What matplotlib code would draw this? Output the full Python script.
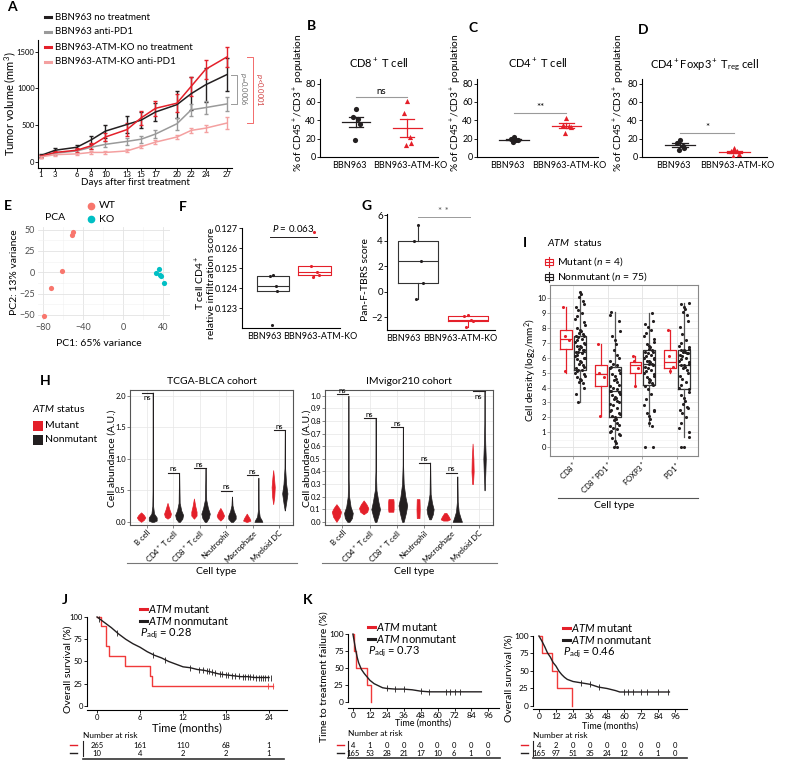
import numpy as np
import matplotlib
matplotlib.use('Agg')
import matplotlib.pyplot as plt
from matplotlib.lines import Line2D
from matplotlib.patches import Rectangle

plt.rcParams['font.family'] = ['Lato', 'DejaVu Sans']
plt.rcParams['mathtext.fontset'] = 'custom'
plt.rcParams['mathtext.rm'] = 'Lato'
plt.rcParams['mathtext.it'] = 'Lato:italic'
plt.rcParams['mathtext.default'] = 'regular'
plt.rcParams['axes.linewidth'] = 0.8

RED = '#E4202A'
BLACK = '#231F20'
GRAY = '#9A9A9A'
PINK = '#F4A0A0'
TEAL = '#00BFC4'
SALMON = '#F8766D'

# ---- A: tumour growth ----
days = [1, 3, 6, 8, 10, 13, 15, 17, 20, 22, 24, 27]
vol_ctrl = [90, 160, 200, 300, 420, 510, 570, 680, 780, 930, 1050, 1190]
vol_ctrl_err = [20, 30, 30, 60, 90, 110, 110, 120, 180, 220, 230, 230]
vol_pd1 = [80, 120, 150, 200, 240, 280, 310, 380, 520, 710, 740, 790]
vol_pd1_err = [15, 20, 25, 30, 40, 50, 50, 60, 80, 80, 90, 100]
vol_ko = [80, 130, 160, 220, 340, 440, 600, 730, 800, 1030, 1260, 1430]
vol_ko_err = [20, 25, 30, 40, 60, 90, 100, 100, 120, 130, 130, 140]
vol_ko_pd1 = [70, 100, 110, 130, 130, 150, 210, 270, 340, 430, 460, 530]
vol_ko_pd1_err = [10, 15, 15, 20, 20, 20, 20, 25, 30, 30, 50, 80]

# ---- B-D: flow cytometry ----
cd8_wt = [52, 44, 41, 36, 19]
cd8_ko = [61, 48, 22, 15, 13]
cd4_wt = [22, 20, 19, 18, 16]
cd4_ko = [43, 35, 34, 33, 26]
treg_wt = [19, 15, 12, 10, 8]
treg_ko = [10, 7, 6, 3, 1]

# ---- E: PCA ----
pc1_wt = [-51, -50, -61, -72, -79]
pc2_wt = [44, 47, 1, -18, -51]
pc1_ko = [33, 36, 37, 38, 41]
pc2_ko = [-1, 4, -3, -5, -13]

# ---- F, G ----
cd4_score_wt = [0.12465, 0.12462, 0.12408, 0.12385, 0.12215]
cd4_score_ko = [0.1268, 0.12510, 0.12478, 0.12465, 0.12455]
tbrs_wt = [5.2, 4.0, 2.4, 0.7, -0.6]
tbrs_ko = [-1.85, -1.9, -2.2, -2.3, -2.75]

# ---- H: violins (y, half width) ----
cell_types = ['B cell', 'CD4$^+$ T cell', 'CD8$^+$ T cell', 'Neutrophil', 'Macrophage', 'Myeloid DC']
tcga_mut = [
    [(0, 0), (0.03, 0.1), (0.07, 0.16), (0.11, 0.1), (0.15, 0)],
    [(0.05, 0), (0.08, 0.1), (0.13, 0.13), (0.2, 0.07), (0.3, 0)],
    [(0.05, 0), (0.1, 0.1), (0.16, 0.1), (0.25, 0.05), (0.37, 0)],
    [(0.02, 0), (0.06, 0.1), (0.1, 0.14), (0.16, 0.08), (0.22, 0)],
    [(0.0, 0.02), (0.02, 0.14), (0.06, 0.1), (0.13, 0)],
    [(0.28, 0), (0.4, 0.04), (0.55, 0.06), (0.7, 0.03), (0.82, 0)],
]
tcga_non = [
    [(0, 0.04), (0.02, 0.15), (0.07, 0.15), (0.13, 0.05), (0.25, 0.015), (0.5, 0.006), (2.05, 0.003)],
    [(0, 0.03), (0.05, 0.12), (0.11, 0.15), (0.18, 0.08), (0.3, 0.02), (0.77, 0.003)],
    [(0, 0.03), (0.06, 0.12), (0.13, 0.16), (0.22, 0.09), (0.35, 0.025), (0.85, 0.003)],
    [(0, 0.04), (0.05, 0.14), (0.1, 0.14), (0.17, 0.07), (0.26, 0.02), (0.4, 0.003)],
    [(0, 0.15), (0.03, 0.12), (0.08, 0.05), (0.2, 0.012), (0.7, 0.003)],
    [(0.18, 0.003), (0.3, 0.05), (0.45, 0.1), (0.6, 0.05), (0.85, 0.012), (1.45, 0.003)],
]
tcga_ns = [2.05, 0.78, 0.85, 0.49, 0.74, 1.45]
imv_mut = [
    [(0, 0), (0.04, 0.12), (0.08, 0.17), (0.11, 0.1), (0.14, 0)],
    [(0.06, 0), (0.08, 0.13), (0.11, 0.17), (0.14, 0.1), (0.17, 0)],
    [(0.08, 0.09), (0.1, 0.1), (0.16, 0.1), (0.18, 0.09)],
    [(0.03, 0.05), (0.1, 0.06), (0.18, 0.05)],
    [(0.01, 0.08), (0.02, 0.17), (0.04, 0.13), (0.07, 0.04)],
    [(0.3, 0.015), (0.4, 0.04), (0.5, 0.03), (0.62, 0.0)],
]
imv_non = [
    [(0, 0.04), (0.03, 0.13), (0.07, 0.16), (0.12, 0.08), (0.2, 0.025), (0.35, 0.008), (1.0, 0.003)],
    [(0, 0.03), (0.05, 0.1), (0.1, 0.16), (0.16, 0.1), (0.25, 0.03), (0.4, 0.008), (0.82, 0.003)],
    [(0, 0.03), (0.07, 0.11), (0.13, 0.16), (0.2, 0.09), (0.3, 0.03), (0.45, 0.008), (0.75, 0.003)],
    [(0.02, 0.03), (0.06, 0.1), (0.1, 0.13), (0.15, 0.07), (0.22, 0.02), (0.47, 0.003)],
    [(0, 0.17), (0.03, 0.12), (0.08, 0.05), (0.16, 0.015), (0.36, 0.003)],
    [(0.25, 0.003), (0.4, 0.03), (0.5, 0.045), (0.62, 0.025), (0.8, 0.008), (1.04, 0.003)],
]
imv_ns = [1.01, 0.82, 0.75, 0.47, 0.39, 1.04]

# ---- I: cell density ----
i_types = ['CD8$^+$', 'CD8$^+$PD1$^+$', 'FOXP3$^+$', 'PD1$^+$']
i_mut_q1 = [6.6, 4.1, 4.95, 5.3]
i_mut_med = [7.3, 4.9, 5.5, 5.7]
i_mut_q3 = [7.9, 5.5, 5.7, 6.5]
i_mut_lo = [5.0, 2.1, 4.1, 5.0]
i_mut_hi = [9.4, 6.9, 6.1, 7.9]
i_non_q1 = [5.2, 2.0, 4.2, 3.9]
i_non_med = [6.4, 3.8, 5.6, 5.5]
i_non_q3 = [7.45, 5.4, 6.5, 6.5]
i_non_lo = [3.0, 0.0, 1.4, 0.7]
i_non_hi = [10.4, 9.1, 9.0, 9.7]
i_mut_pts = [[9.4, 7.5, 7.2, 5.1], [6.9, 5.0, 4.7, 2.1], [6.1, 5.8, 5.3, 4.1], [7.9, 6.1, 5.4, 5.1]]
i_non_pts = [
    [10.4, 10.3, 10.1, 9.8, 9.6, 9.4, 9.2, 9.0, 8.8, 8.6, 8.4, 8.2, 8.0, 7.9, 7.8, 7.7, 7.6, 7.5, 7.45, 7.4,
     7.3, 7.2, 7.1, 7.0, 6.9, 6.8, 6.8, 6.7, 6.6, 6.5, 6.5, 6.4, 6.4, 6.3, 6.2, 6.1, 6.0, 6.0, 5.9, 5.8,
     5.7, 5.6, 5.5, 5.4, 5.3, 5.2, 5.2, 5.1, 5.0, 4.9, 4.8, 4.7, 4.6, 4.5, 4.4, 4.3, 4.0, 3.6, 3.0],
    [9.1, 8.9, 8.5, 7.8, 7.5, 7.2, 6.9, 6.5, 6.2, 6.0, 5.8, 5.6, 5.5, 5.4, 5.3, 5.2, 5.0, 4.9, 4.8, 4.6,
     4.5, 4.4, 4.2, 4.1, 4.0, 3.9, 3.8, 3.8, 3.7, 3.6, 3.5, 3.4, 3.3, 3.2, 3.1, 3.0, 2.9, 2.8, 2.6, 2.5,
     2.4, 2.3, 2.2, 2.1, 2.0, 1.9, 1.8, 1.6, 1.5, 1.4, 1.3, 1.2, 1.1, 1.0, 0.9, 0.8, 0.6, 0.4, 0.3, 0.0, 0.0],
    [9.0, 8.5, 8.3, 8.1, 7.9, 7.7, 7.5, 7.3, 7.1, 6.9, 6.8, 6.7, 6.6, 6.5, 6.4, 6.4, 6.3, 6.2, 6.1, 6.0,
     6.0, 5.9, 5.8, 5.8, 5.7, 5.6, 5.6, 5.5, 5.4, 5.3, 5.2, 5.1, 5.0, 4.9, 4.8, 4.7, 4.6, 4.5, 4.4, 4.3,
     4.2, 4.1, 3.9, 3.6, 3.2, 2.8, 2.5, 2.4, 2.3, 2.1, 1.9, 1.6, 1.4, 0.0, 0.0],
    [9.7, 9.6, 9.4, 9.3, 9.1, 8.9, 8.5, 8.1, 7.6, 7.2, 7.0, 6.8, 6.7, 6.6, 6.5, 6.5, 6.4, 6.4, 6.3, 6.3,
     6.2, 6.1, 6.0, 5.9, 5.8, 5.7, 5.6, 5.5, 5.5, 5.4, 5.3, 5.2, 5.0, 4.8, 4.6, 4.4, 4.2, 4.0, 3.9, 3.7,
     3.5, 3.3, 3.1, 2.9, 2.7, 2.6, 2.5, 2.3, 2.0, 1.6, 1.3, 1.0, 0.7, 0.0, 0.0],
]

# ---- J, K: Kaplan-Meier ----
j_mut_t = [0, 0.5, 1.3, 1.6, 3.9, 7.4, 7.7, 24.6]
j_mut_s = [100, 90, 67, 56, 45, 34, 22.5, 22.5]
j_non_t = [0, 0.5, 1, 2, 3, 4, 5, 6, 7, 8, 9, 10, 11, 12, 13, 14, 15, 16, 17, 18, 19, 20, 21, 22, 23, 24]
j_non_s = [100, 97, 94, 88, 81, 75, 70, 66, 61, 57, 54, 50, 47, 44, 43, 41, 40, 38, 36, 35, 34, 33, 33, 32, 32, 32]
j_cens = [0.3, 2.8, 7.8, 9.5, 12.9, 14.2, 14.8, 15.3, 15.6, 16.0, 16.4, 17.1, 17.5, 18.0, 18.3, 18.8,
          19.3, 19.8, 20.3, 20.6, 21.0, 21.4, 21.8, 22.2, 22.6, 22.9, 23.2, 23.5, 23.8, 24.2]
j_mut_cens = [23.9, 24.6]
j_risk_top = [265, 161, 110, 68, 1]
j_risk_bot = [10, 4, 2, 2, 1]

kl_mut_t = [0, 1, 2.5, 10, 13]
kl_mut_s = [100, 75, 50, 25, 0]
kl_non_t = [0, 1, 2, 3, 4, 6, 8, 10, 12, 15, 18, 21, 24, 30, 36, 42, 48, 54, 60, 72, 84, 91]
kl_non_s = [100, 88, 76, 66, 58, 48, 42, 37, 32, 27, 24, 21, 20, 19, 19, 18, 16, 15, 15, 15, 15, 15]
kl_cens = [24, 30, 36, 48, 54, 66, 69, 72, 76]
kl_risk_top = [4, 1, 0, 0, 0, 0, 0, 0, 0]
kl_risk_bot = [165, 53, 28, 21, 17, 10, 6, 1, 0]

kr_mut_t = [0, 2, 9, 12.5, 23.5]
kr_mut_s = [100, 75, 50, 25, 0]
kr_non_t = [0, 2, 4, 6, 8, 10, 12, 14, 16, 18, 20, 24, 30, 36, 42, 48, 54, 57, 60, 72, 84, 92]
kr_non_s = [100, 93, 85, 76, 70, 62, 57, 50, 45, 41, 38, 35, 33, 31, 27, 25, 22, 20, 20, 20, 20, 20]
kr_cens = [30, 36, 42, 60, 63, 66, 72, 76, 84, 91]
kr_risk_top = [4, 2, 0, 0, 0, 0, 0, 0, 0]
kr_risk_bot = [165, 97, 51, 35, 24, 12, 6, 1, 0]

JIT = [0.0, -0.6, 0.5, 0.9, -0.3, 0.2, -0.9, 0.7, -0.5, 0.35, -0.15, 0.8, -0.75]

W, H = 785, 763
fig = plt.figure(figsize=(7.85, 7.63), dpi=100)


def add_ax(x0, y0, x1, y1):
    return fig.add_axes([x0 / W, 1 - y1 / H, (x1 - x0) / W, (y1 - y0) / H])


def ftext(x, y, s, **kw):
    kw.setdefault('va', 'center')
    fig.text(x / W, 1 - y / H, s, **kw)


def fline(xs, ys, **kw):
    fig.add_artist(Line2D([x / W for x in xs], [1 - y / H for y in ys], **kw))


def classic(ax):
    ax.spines['top'].set_visible(False)
    ax.spines['right'].set_visible(False)
    ax.tick_params(labelsize=6, length=2, width=0.6, pad=1)


def letter(x, y, s):
    ftext(x, y, s, fontsize=10, fontweight='bold', ha='center')


# ================= A =================
ax = add_ax(38, 40, 232, 168)
classic(ax)
for m, e, c in [(vol_ctrl, vol_ctrl_err, BLACK), (vol_pd1, vol_pd1_err, GRAY),
                 (vol_ko, vol_ko_err, RED), (vol_ko_pd1, vol_ko_pd1_err, PINK)]:
    ax.errorbar(days, m, yerr=e, color=c, lw=1.1, elinewidth=1.0, capsize=1.2)
ax.set_xlim(0.58, 27.7)
ax.set_ylim(-82, 1660)
ax.set_xticks(days)
ax.set_yticks([0, 500, 1000, 1500])
ax.tick_params(labelsize=5.5, pad=0.5)
ax.set_xlabel('Days after first treatment', fontsize=7, labelpad=0)
ftext(10, 104, 'Tumor volume (mm$^3$)', rotation=90, fontsize=8, ha='center')
letter(12, 7, 'A')
for y, c, s in [(17, BLACK, 'BBN963 no treatment'), (32, GRAY, 'BBN963 anti-PD1'),
                (47, RED, 'BBN963-ATM-KO no treatment'), (62, PINK, 'BBN963-ATM-KO anti-PD1')]:
    fline([45, 51], [y, y], color=c, lw=2.2)
    ftext(55, y, s, fontsize=7)


def ya(v):
    return 162 - v * 0.0733


fline([231, 237, 237, 231], [ya(1190), ya(1190), ya(790), ya(790)], color=GRAY, lw=0.7)
ftext(243, (ya(1190) + ya(790)) / 2, '$\\mathit{p}$=0.0006', rotation=270, fontsize=5.5,
      color='#707070', ha='center')
fline([247, 253, 253, 247], [ya(1430), ya(1430), ya(530), ya(530)], color='#F26B6B', lw=0.7)
ftext(259, (ya(1430) + ya(530)) / 2, '$\\mathit{p}$<0.0001', rotation=270, fontsize=5.5,
      color='#D04040', ha='center')

# ================= B-D =================
DOT_OFF = [0.0, -0.06, 0.05, 0.08, -0.02]


def dot_panel(x0, x1, title, wt, ko, sig, sig_y, lab_x, let_xy, let):
    ax = add_ax(x0, 79, x1, 157)
    classic(ax)
    ax.scatter([1 + o for o in DOT_OFF], wt, s=14, color=BLACK, zorder=3, lw=0)
    ax.scatter([2 + o for o in DOT_OFF], ko, s=14, color=RED, marker='^', zorder=3, lw=0)
    for pos, vals, c in [(1, wt, BLACK), (2, ko, RED)]:
        mu = np.mean(vals)
        se = np.std(vals, ddof=1) / np.sqrt(len(vals))
        ax.plot([pos - 0.28, pos + 0.28], [mu, mu], color=c, lw=0.9)
        ax.plot([pos - 0.14, pos + 0.14], [mu + se, mu + se], color=c, lw=0.9)
        ax.plot([pos - 0.14, pos + 0.14], [mu - se, mu - se], color=c, lw=0.9)
        ax.plot([pos, pos], [mu - se, mu + se], color=c, lw=0.9)
    ax.plot([1, 2], [sig_y, sig_y], color=GRAY, lw=0.8)
    ax.text(1.5, sig_y + 1, sig, ha='center', va='bottom', fontsize=7)
    ax.set_xlim(0.3, 2.6)
    ax.set_ylim(0, 85)
    ax.set_yticks([0, 20, 40, 60, 80])
    ax.set_xticks([0.88, 2.05])
    ax.set_xticklabels(['BBN963', 'BBN963-ATM-KO'], fontsize=6.5)
    ax.tick_params(axis='x', length=0, pad=3)
    ax.tick_params(axis='y', labelsize=6.5)
    ax.set_title(title, fontsize=8, pad=8)
    ftext(lab_x, 103, '% of CD45$^+$/CD3$^+$ population', rotation=90, fontsize=7.3, ha='center')
    letter(let_xy[0], let_xy[1], let)


dot_panel(320, 438, 'CD8$^+$ T cell', cd8_wt, cd8_ko, 'ns', 65, 299, (311, 26), 'B')
dot_panel(477, 598, 'CD4$^+$ T cell', cd4_wt, cd4_ko, '**', 48, 456, (473, 28), 'C')
dot_panel(642, 767, 'CD4$^+$Foxp3$^+$ T$_{reg}$ cell', treg_wt, treg_ko, '*', 26, 619, (643, 30), 'D')

# ================= E =================
ax = add_ax(38, 227, 170, 320)
for s in ax.spines.values():
    s.set_visible(False)
ax.set_xlim(-85, 47)
ax.set_ylim(-56, 53)
ax.set_xticks([-80, -40, 0, 40])
ax.set_yticks([-50, -25, 0, 25, 50])
ax.set_xticks([-60, -20, 20], minor=True)
ax.set_yticks([-37.5, -12.5, 12.5, 37.5], minor=True)
ax.grid(True, which='major', color='#E3E3E3', lw=0.6)
ax.grid(True, which='minor', color='#F1F1F1', lw=0.4)
ax.set_axisbelow(True)
ax.tick_params(which='both', length=0, labelsize=6.5, labelcolor='#4D4D4D', pad=2)
ax.set_yticklabels(['\u221250', '\u221225', '0', '25', '50'])
ax.set_xticklabels(['\u221280', '\u221240', '0', '40'])
ax.scatter(pc1_wt, pc2_wt, s=14, color=SALMON, lw=0)
ax.scatter(pc1_ko, pc2_ko, s=14, color=TEAL, lw=0)
ftext(99, 343, 'PC1: 65% variance', fontsize=7.5, ha='center')
ftext(15, 272, 'PC2: 13% variance', fontsize=7.5, ha='center', rotation=90)
ftext(45, 217, 'PCA', fontsize=7.5)
fig.add_artist(Line2D([91 / W], [1 - 206 / H], marker='o', ms=4.5, color=SALMON, lw=0))
fig.add_artist(Line2D([91 / W], [1 - 219 / H], marker='o', ms=4.5, color=TEAL, lw=0))
ftext(99, 206, 'WT', fontsize=7.5)
ftext(99, 219, 'KO', fontsize=7.5)
letter(8, 206, 'E')


# ================= F, G =================
def box_panel(ax, wt, ko, pos):
    for p, vals, c in [(pos[0], wt, '#333333'), (pos[1], ko, RED)]:
        ax.boxplot([vals], positions=[p], widths=0.8, showfliers=False, showcaps=False,
                   manage_ticks=False,
                   boxprops=dict(color=c, lw=0.8), medianprops=dict(color=c, lw=0.8),
                   whiskerprops=dict(color=c, lw=0.8))
        ax.scatter([p + 0.12 * o for o in JIT[:len(vals)]], vals, s=5, color=BLACK if p == pos[0] else RED,
                   zorder=3, lw=0)


ax = add_ax(242, 228, 340, 328)
classic(ax)
box_panel(ax, cd4_score_wt, cd4_score_ko, (1, 2))
ax.set_xlim(0.244, 2.63)
ax.set_ylim(0.1220, 0.1270)
ax.set_yticks([0.123, 0.124, 0.125, 0.126, 0.127])
ax.set_yticklabels(['0.123', '0.124', '0.125', '0.126', '0.127'])
ax.set_xticks([0.8, 2.15])
ax.set_xticklabels(['BBN963', 'BBN963-ATM-KO'], fontsize=6.5)
ax.tick_params(axis='x', length=0, pad=3)
ax.tick_params(axis='y', labelsize=6.5)
ax.plot([0.93, 2.07], [0.12655, 0.12655], color=BLACK, lw=0.7)
ax.text(1.5, 0.1267, '$\\mathit{P}$ = 0.063', ha='center', va='bottom', fontsize=7)
ftext(205, 283, 'T cell CD4$^+$\nrelative infiltration score', rotation=90, fontsize=7.5,
      ha='center', linespacing=1.1)
letter(183, 207, 'F')

ax = add_ax(387, 214, 495, 330)
classic(ax)
box_panel(ax, tbrs_wt, tbrs_ko, (1, 2))
ax.set_xlim(0.38, 2.55)
ax.set_ylim(-3, 6.1)
ax.set_yticks([-2, 0, 2, 4, 6])
ax.set_yticklabels(['\u22122', '0', '2', '4', '6'])
ax.set_xticks([0.7, 1.85])
ax.set_xticklabels(['BBN963', 'BBN963-ATM-KO'], fontsize=6.5)
ax.tick_params(axis='x', length=0, pad=3)
ax.tick_params(axis='y', labelsize=7)
ax.plot([1, 2.05], [5.9, 5.9], color=GRAY, lw=0.7)
ax.text(1.52, 5.95, '* *', ha='center', va='bottom', fontsize=7, color='#555555')
ftext(365, 280, 'Pan-F-TBRS score', rotation=90, fontsize=7.5, ha='center')
letter(367, 206, 'G')


# ================= H =================
def violin(ax, pos, prof, color):
    ys = [p[0] for p in prof]
    ws = [p[1] for p in prof]
    ax.fill_betweenx(ys, [pos - w for w in ws], [pos + w for w in ws], facecolor=color,
                     edgecolor=color, lw=0.5)


def violin_panel(x0, x1, mut, non, ns, ymax, yticks, title, ylab_x, below):
    ax = add_ax(x0, 390, x1, 525)
    for s in ax.spines.values():
        s.set_color('#555555')
        s.set_linewidth(0.8)
    ax.set_xlim(0.36, 6.53)
    ax.set_ylim(-0.025 * ymax, ymax * 1.045)
    ax.set_yticks(yticks)
    ax.set_yticklabels(['%.1f' % v for v in yticks])
    ax.set_xticks(range(1, 7))
    ax.set_xticklabels(cell_types, rotation=45, ha='right', rotation_mode='anchor', fontsize=5.5)
    ax.tick_params(labelsize=5.5, length=2, width=0.5, pad=1, color='#555555')
    ax.grid(True, color='#E6E6E6', lw=0.5)
    ax.set_axisbelow(True)
    for i in range(6):
        violin(ax, i + 1 - 0.22, mut[i], RED)
        violin(ax, i + 1 + 0.22, non[i], BLACK)
        ax.plot([i + 1 - 0.2, i + 1 + 0.22], [ns[i], ns[i]], color=BLACK, lw=0.8)
        if i in below:
            ax.text(i + 1 + 0.0, ns[i] - 0.015 * ymax, 'ns', ha='center', va='top', fontsize=5.5)
        else:
            ax.text(i + 1 + 0.0, ns[i] + 0.005 * ymax, 'ns', ha='center', va='bottom', fontsize=5.5)
    ftext((x0 + x1) / 2, 381, title, fontsize=7.5, ha='center')
    ftext(ylab_x, 458, 'Cell abundance (A.U.)', rotation=90, fontsize=7.5, ha='center')
    fline([x0 - 3, x1 + 4], [563, 563], color='#777777', lw=0.8)
    ftext((x0 + x1) / 2 + 5, 572, 'Cell type', fontsize=7.5, ha='center')


violin_panel(130, 293, tcga_mut, tcga_non, tcga_ns, 2.0, [0.0, 0.5, 1.0, 1.5, 2.0],
             'TCGA-BLCA cohort', 112, [0])
violin_panel(325, 493, imv_mut, imv_non, imv_ns, 1.0, [i / 10 for i in range(11)],
             'IMvigor210 cohort', 307, [5])
letter(45, 381, 'H')
ftext(32, 409, '$\\mathit{ATM}$ status', fontsize=7.5)
fig.add_artist(Rectangle((33 / W, 1 - 431 / H), 10 / W, 10 / H, transform=fig.transFigure,
                         facecolor=RED, edgecolor='none'))
fig.add_artist(Rectangle((33 / W, 1 - 445 / H), 10 / W, 10 / H, transform=fig.transFigure,
                         facecolor=BLACK, edgecolor='none'))
ftext(45, 426, 'Mutant', fontsize=7.5)
ftext(45, 440, 'Nonmutant', fontsize=7.5)

# ================= I =================
ax = add_ax(550, 285, 698, 456)
for s in ax.spines.values():
    s.set_color('#888888')
    s.set_linewidth(0.8)
ax.set_xlim(0.34, 4.6)
ax.set_ylim(-0.6, 10.9)
mut_stats = [dict(q1=i_mut_q1[k], med=i_mut_med[k], q3=i_mut_q3[k], whislo=i_mut_lo[k],
                  whishi=i_mut_hi[k], fliers=[]) for k in range(4)]
non_stats = [dict(q1=i_non_q1[k], med=i_non_med[k], q3=i_non_q3[k], whislo=i_non_lo[k],
                  whishi=i_non_hi[k], fliers=[]) for k in range(4)]
ax.bxp(mut_stats, positions=[k + 1 - 0.2 for k in range(4)], widths=0.34, showcaps=False,
       manage_ticks=False,
       boxprops=dict(color=RED, lw=0.9), medianprops=dict(color=RED, lw=0.9),
       whiskerprops=dict(color=RED, lw=0.9))
ax.bxp(non_stats, positions=[k + 1 + 0.2 for k in range(4)], widths=0.34, showcaps=False,
       manage_ticks=False,
       boxprops=dict(color='#333333', lw=0.9), medianprops=dict(color='#333333', lw=0.9),
       whiskerprops=dict(color='#555555', lw=0.9))
for k in range(4):
    pts = i_mut_pts[k]
    ax.scatter([k + 1 - 0.2 + 0.12 * JIT[(j * 3 + 1) % len(JIT)] for j in range(len(pts))], pts,
               s=5, color=RED, lw=0, zorder=3)
    pts = i_non_pts[k]
    ax.scatter([k + 1 + 0.2 + 0.16 * JIT[(j * 5 + k) % len(JIT)] for j in range(len(pts))], pts,
               s=5, color=BLACK, lw=0, zorder=3)
ax.set_yticks(range(11))
ax.set_yticks([v + 0.5 for v in range(10)], minor=True)
ax.set_xticks(range(1, 5))
ax.set_xticklabels(i_types, rotation=45, ha='right', rotation_mode='anchor', fontsize=6.5)
ax.tick_params(labelsize=5.5, length=2, width=0.5, pad=1, color='#888888')
ax.tick_params(which='minor', length=0)
ax.grid(True, which='major', color='#E3E3E3', lw=0.6)
ax.grid(True, which='minor', axis='y', color='#EFEFEF', lw=0.4)
ax.set_axisbelow(True)
ftext(531, 370, 'Cell density (log$_2$/mm$^2$)', rotation=90, fontsize=7.2, ha='center')
fline([558, 698], [498, 498], color='#555555', lw=0.8)
ftext(614, 506, 'Cell type', fontsize=7.5, ha='center')
letter(525, 243, 'I')
ftext(547, 243, '$\\mathit{ATM}$  status', fontsize=7.5)
for y, c, s in [(262, RED, 'Mutant ($\\mathit{n}$ = 4)'), (277, BLACK, 'Nonmutant ($\\mathit{n}$ = 75)')]:
    fig.add_artist(Rectangle((545 / W, 1 - (y + 3) / H), 8 / W, 6 / H, transform=fig.transFigure,
                             facecolor='none', edgecolor=c, lw=0.8))
    fline([545, 553], [y, y], color=c, lw=0.8)
    fline([549, 549], [y - 5, y + 5], color=c, lw=0.8)
    ftext(557, y, s, fontsize=7.5)


# ================= J, K =================
def km_panel(box, xlim, ylim, xticks, mut_t, mut_s, non_t, non_s, cens, mut_cens, ylab, ylab_x,
             xlab_y, xlab_fs, leg_x, leg_y, pval, tick_fs):
    ax = add_ax(*box)
    classic(ax)
    ax.step(mut_t, mut_s, where='post', color='#F03A3A', lw=1.0)
    ax.plot(non_t, non_s, color=BLACK, lw=1.0)
    ax.plot(cens, np.interp(cens, non_t, non_s), '|', color=BLACK, ms=4, mew=0.6)
    if mut_cens:
        ax.plot(mut_cens, [mut_s[-1]] * len(mut_cens), '|', color='#F03A3A', ms=4, mew=0.6)
    ax.set_xlim(*xlim)
    ax.set_ylim(*ylim)
    ax.set_xticks(xticks)
    ax.set_yticks([0, 25, 50, 75, 100])
    ax.tick_params(labelsize=tick_fs)
    ax.spines['left'].set_bounds(0, 100)
    ftext(ylab_x, (box[1] + box[3]) / 2 + 8, ylab, rotation=90, fontsize=7.5, ha='center')
    ftext((box[0] + box[2]) / 2, xlab_y, 'Time (months)', fontsize=xlab_fs, ha='center')
    fline([leg_x - 8, leg_x - 1], [leg_y, leg_y], color=RED, lw=2.2)
    ftext(leg_x, leg_y, '$\\mathit{ATM}$ mutant', fontsize=8)
    fline([leg_x - 8, leg_x - 1], [leg_y + 12, leg_y + 12], color=BLACK, lw=2.2)
    ftext(leg_x, leg_y + 12, '$\\mathit{ATM}$ nonmutant', fontsize=8)
    ftext(leg_x - 8, leg_y + 25, '$\\mathit{P}_{adj}$ = ' + pval, fontsize=8)
    return ax


def risk_table(x_axis, xs, top, bot, y_top, mark_x, bar_x, line_x1, line_y, tit_y):
    ftext(bar_x, tit_y, 'Number at risk', fontsize=6)
    fline([mark_x, mark_x + 7], [y_top, y_top], color=RED, lw=1.0)
    fline([mark_x, mark_x + 7], [y_top + 8, y_top + 8], color=BLACK, lw=1.0)
    fline([bar_x, bar_x], [y_top - 4, y_top + 11], color=BLACK, lw=0.8)
    fline([bar_x, line_x1], [line_y, line_y], color='#333333', lw=1.2)
    for m, a, b in zip(xs, top, bot):
        ftext(x_axis(m), y_top, str(a), fontsize=5.5, ha='center')
        ftext(x_axis(m), y_top + 8, str(b), fontsize=5.5, ha='center')


km_panel((87, 612, 287, 710), (-1.4, 26.5), (-4.5, 105.6), [0, 6, 12, 18, 24], j_mut_t, j_mut_s,
         j_non_t, j_non_s, j_cens, j_mut_cens, 'Overall survival (%)', 68, 728, 8, 148, 609, '0.28', 5.5)
risk_table(lambda m: 97 + m * 7.17, [0, 6, 12, 18, 24], j_risk_top, j_risk_bot, 745, 70, 83, 284, 759, 735)
letter(65, 600, 'J')

k_ticks = [0, 12, 24, 36, 48, 60, 72, 84, 96]
km_panel((348, 630, 499, 708), (-3.5, 103.5), (-8.8, 106), k_ticks, kl_mut_t, kl_mut_s,
         kl_non_t, kl_non_s, kl_cens, [], 'Time to treatment failure (%)', 324, 723, 6.5, 376, 627,
         '0.73', 6)
risk_table(lambda m: 353 + m * 1.406, k_ticks, kl_risk_top, kl_risk_bot, 745, 337, 348, 500, 758, 733)
letter(308, 600, 'K')

km_panel((533, 632, 687, 709), (-4.2, 104.4), (-4.3, 105.7), k_ticks, kr_mut_t, kr_mut_s,
         kr_non_t, kr_non_s, kr_cens, [], 'Overall survival (%)', 509, 726, 6.5, 571, 628, '0.46', 6)
risk_table(lambda m: 539 + m * 1.417, k_ticks, kr_risk_top, kr_risk_bot, 745, 521, 533, 687, 758, 735)

fig.savefig('out.png', dpi=100)
